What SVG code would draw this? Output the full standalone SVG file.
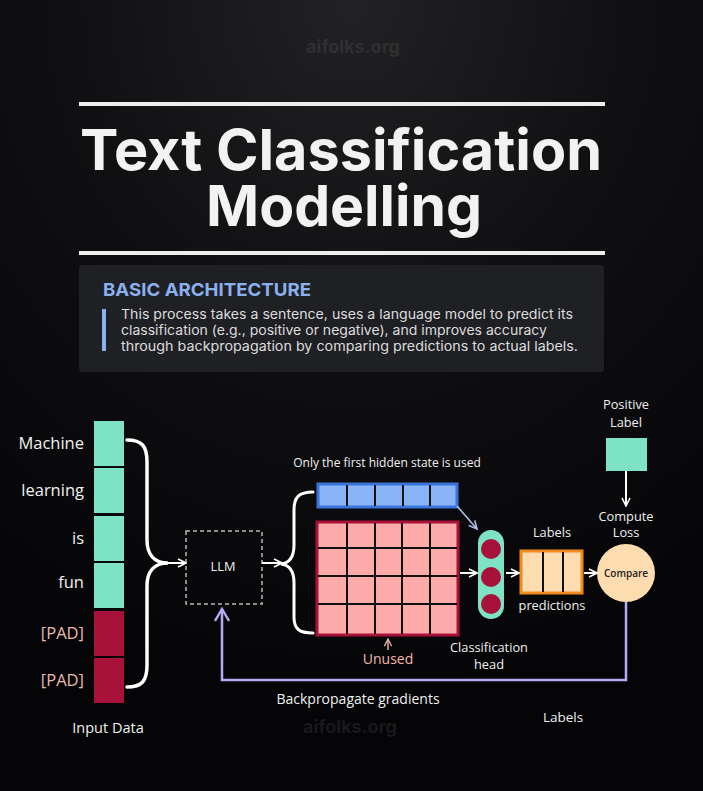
<svg xmlns="http://www.w3.org/2000/svg" width="703" height="791" viewBox="0 0 703 791">
<defs>
<radialGradient id="bg" cx="0.5" cy="0" r="0.9">
<stop offset="0" stop-color="#222224"/>
<stop offset="0.45" stop-color="#101012"/>
<stop offset="1" stop-color="#050507"/>
</radialGradient>
<marker id="chev" viewBox="0 0 10 10" refX="9" refY="5" markerWidth="10" markerHeight="10" markerUnits="userSpaceOnUse" orient="auto">
<path d="M1,1 L9,5 L1,9" fill="none" stroke="#ffffff" stroke-width="1.6"/>
</marker>
<marker id="chevB" viewBox="0 0 10 10" refX="9" refY="5" markerWidth="10" markerHeight="10" markerUnits="userSpaceOnUse" orient="auto">
<path d="M1,1 L9,5 L1,9" fill="none" stroke="#a9c0e8" stroke-width="1.6"/>
</marker>
<marker id="chevP" viewBox="0 0 16 16" refX="14" refY="8" markerWidth="16" markerHeight="16" markerUnits="userSpaceOnUse" orient="auto">
<path d="M2,1 L14,8 L2,15" fill="none" stroke="#b6a8f2" stroke-width="2.4"/>
</marker>
<marker id="chevU" viewBox="0 0 10 10" refX="9" refY="5" markerWidth="9" markerHeight="9" markerUnits="userSpaceOnUse" orient="auto">
<path d="M1,1 L9,5 L1,9" fill="none" stroke="#f2b8aa" stroke-width="1.4"/>
</marker>
</defs>
<style>
.lbl{font-family:"Open Sans","Noto Sans",sans-serif;fill:#f0f0f0;}
.pad{font-family:"Open Sans","Noto Sans",sans-serif;fill:#eab9ae;font-size:16.5px;text-anchor:end;}
.word{font-size:16.5px;text-anchor:end;}
.sm{font-size:12.8px;text-anchor:middle;}
.cell-g{fill:#7de3c4;}
.cell-r{fill:#a8123a;}
.brace{fill:none;stroke:#ffffff;stroke-width:3.5;stroke-linecap:round;}
.arr{fill:none;stroke:#ffffff;stroke-width:2;marker-end:url(#chev);}
.grid{stroke:#111111;stroke-width:2;}
.wm{font-family:"Inter","Liberation Sans",sans-serif;font-weight:700;font-size:18px;text-anchor:middle;}
</style>
<rect width="703" height="791" fill="url(#bg)"/>
<text class="wm" x="353" y="53" fill="#303033">aifolks.org</text>
<text class="wm" x="350" y="733" fill="#19191c">aifolks.org</text>

<g id="title">
<rect x="79" y="102" width="526" height="4" fill="#eeeeee"/>
<text x="341" y="170" font-family="Inter,'Liberation Sans',sans-serif" font-weight="700" font-size="56" fill="#f2f2f0" text-anchor="middle" textLength="522" lengthAdjust="spacingAndGlyphs">Text Classification</text>
<text x="344" y="226" font-family="Inter,'Liberation Sans',sans-serif" font-weight="700" font-size="56" fill="#f2f2f0" text-anchor="middle" textLength="276" lengthAdjust="spacingAndGlyphs">Modelling</text>
<rect x="79" y="251" width="526" height="4" fill="#eeeeee"/>
</g>

<g id="info">
<rect x="79" y="265" width="525" height="107" rx="4" fill="#1f2024"/>
<text x="103" y="296" font-family="Inter,'Liberation Sans',sans-serif" font-weight="700" font-size="18" fill="#8ab0ee" textLength="208" lengthAdjust="spacingAndGlyphs">BASIC ARCHITECTURE</text>
<rect x="102" y="309" width="4" height="42" fill="#8ab0ee"/>
<g font-family="Inter,'Liberation Sans',sans-serif" font-size="13.5" fill="#dcdcdc">
<text x="121" y="319" textLength="452" lengthAdjust="spacingAndGlyphs">This process takes a sentence, uses a language model to predict its</text>
<text x="121" y="335" textLength="426" lengthAdjust="spacingAndGlyphs">classification (e.g., positive or negative), and improves accuracy</text>
<text x="121" y="351" textLength="457" lengthAdjust="spacingAndGlyphs">through backpropagation by comparing predictions to actual labels.</text>
</g>
</g>

<g id="input">
<rect class="cell-g" x="94" y="421" width="30" height="45"/>
<rect class="cell-g" x="94" y="468" width="30" height="45"/>
<rect class="cell-g" x="94" y="516" width="30" height="45"/>
<rect class="cell-g" x="94" y="563" width="30" height="45"/>
<rect class="cell-r" x="94" y="611" width="30" height="45"/>
<rect class="cell-r" x="94" y="658" width="30" height="45"/>
<text class="lbl word" x="84" y="449">Machine</text>
<text class="lbl word" x="84" y="496">learning</text>
<text class="lbl word" x="84" y="544">is</text>
<text class="lbl word" x="84" y="588">fun</text>
<text class="pad" x="84" y="639">[PAD]</text>
<text class="pad" x="84" y="686">[PAD]</text>
<text class="lbl" x="108" y="733" font-size="14.5" text-anchor="middle">Input Data</text>
</g>

<g id="llm">
<rect x="186" y="531" width="76" height="73" fill="none" stroke="#b8b8b8" stroke-width="1.5" stroke-dasharray="4 3"/>
<text class="lbl sm" x="223" y="571" font-size="13">LLM</text>
</g>

<g id="hidden">
<text class="lbl" x="387" y="467" font-size="12" text-anchor="middle">Only the first hidden state is used</text>
<rect x="318" y="484" width="139" height="23" fill="#8ab4f8" stroke="#3b73dc" stroke-width="3"/>
<g class="grid">
<line x1="347" y1="485" x2="347" y2="506"/>
<line x1="375" y1="485" x2="375" y2="506"/>
<line x1="403" y1="485" x2="403" y2="506"/>
<line x1="430" y1="485" x2="430" y2="506"/>
</g>
</g>

<g id="states">
<rect x="317" y="522" width="141" height="113" fill="#fcaaaa" stroke="#a8123a" stroke-width="3"/>
<g class="grid">
<line x1="347" y1="523" x2="347" y2="634"/>
<line x1="375" y1="523" x2="375" y2="634"/>
<line x1="402" y1="523" x2="402" y2="634"/>
<line x1="430" y1="523" x2="430" y2="634"/>
<line x1="318" y1="548" x2="457" y2="548"/>
<line x1="318" y1="576" x2="457" y2="576"/>
<line x1="318" y1="604" x2="457" y2="604"/>
</g>
<text x="388" y="664" font-family="'Open Sans','Noto Sans',sans-serif" font-size="14" fill="#f2b8aa" text-anchor="middle">Unused</text>
</g>

<g id="head">
<rect x="478" y="530" width="26" height="89" rx="13" fill="#7de3c4"/>
<circle cx="491" cy="549" r="10" fill="#a8123a"/>
<circle cx="491" cy="577" r="10" fill="#a8123a"/>
<circle cx="491" cy="604" r="10" fill="#a8123a"/>
<text class="lbl sm" x="489" y="652">Classification</text>
<text class="lbl sm" x="489" y="669">head</text>
</g>

<g id="predictions">
<rect x="521" y="551" width="61" height="42" fill="#fddcb0" stroke="#f08a1c" stroke-width="3"/>
<line class="grid" x1="543" y1="552" x2="543" y2="592"/>
<line class="grid" x1="563" y1="552" x2="563" y2="592"/>
<text class="lbl sm" x="552" y="537" font-size="13">Labels</text>
<text class="lbl sm" x="552" y="610" font-size="13.5">predictions</text>
</g>

<g id="compare">
<circle cx="626" cy="573" r="29" fill="#fddcb0"/>
<text x="626" y="577" font-family="'Open Sans','Noto Sans',sans-serif" font-size="10" font-weight="600" fill="#222" text-anchor="middle">Compare</text>
<text class="lbl sm" x="626" y="521" font-size="13">Compute</text>
<text class="lbl sm" x="626" y="537" font-size="13">Loss</text>
</g>

<g id="positive">
<text class="lbl sm" x="626" y="409">Positive</text>
<text class="lbl sm" x="626" y="427">Label</text>
<rect x="606" y="438" width="41" height="33" fill="#7de3c4"/>
</g>

<g id="texts">
<text class="lbl" x="358" y="704" font-size="14" text-anchor="middle">Backpropagate gradients</text>
<text class="lbl" x="563" y="722" font-size="13.5" text-anchor="middle">Labels</text>
</g>

<g id="connectors">
<path class="brace" d="M127,440 C142,440 147,446 147,462 L147,540 C147,554 154,563 168,563 C154,563 147,572 147,586 L147,665 C147,681 142,687 127,687"/>
<line class="arr" x1="168" y1="563" x2="186" y2="563"/>
<line class="arr" x1="262" y1="563" x2="282" y2="563"/>
<path class="brace" style="stroke-width:3" d="M313,492 C299,492 294,497 294,510 L294,545 C294,557 290,563 281,564 C290,565 294,571 294,583 L294,617 C294,629 299,633 313,633"/>
<line x1="457" y1="506" x2="477" y2="529" stroke="#a9c0e8" stroke-width="1.6" marker-end="url(#chevB)"/>
<line x1="388" y1="650" x2="388" y2="639" stroke="#f2b8aa" stroke-width="1.4" marker-end="url(#chevU)"/>
<line class="arr" x1="460" y1="573" x2="477" y2="573"/>
<line class="arr" x1="506" y1="573" x2="519" y2="573"/>
<line class="arr" x1="584" y1="573" x2="597" y2="573"/>
<line class="arr" x1="626" y1="471" x2="626" y2="506"/>
<path d="M626,602 L626,680 L222,680 L222,609" fill="none" stroke="#b6a8f2" stroke-width="2.5" marker-end="url(#chevP)"/>
</g>
</svg>
